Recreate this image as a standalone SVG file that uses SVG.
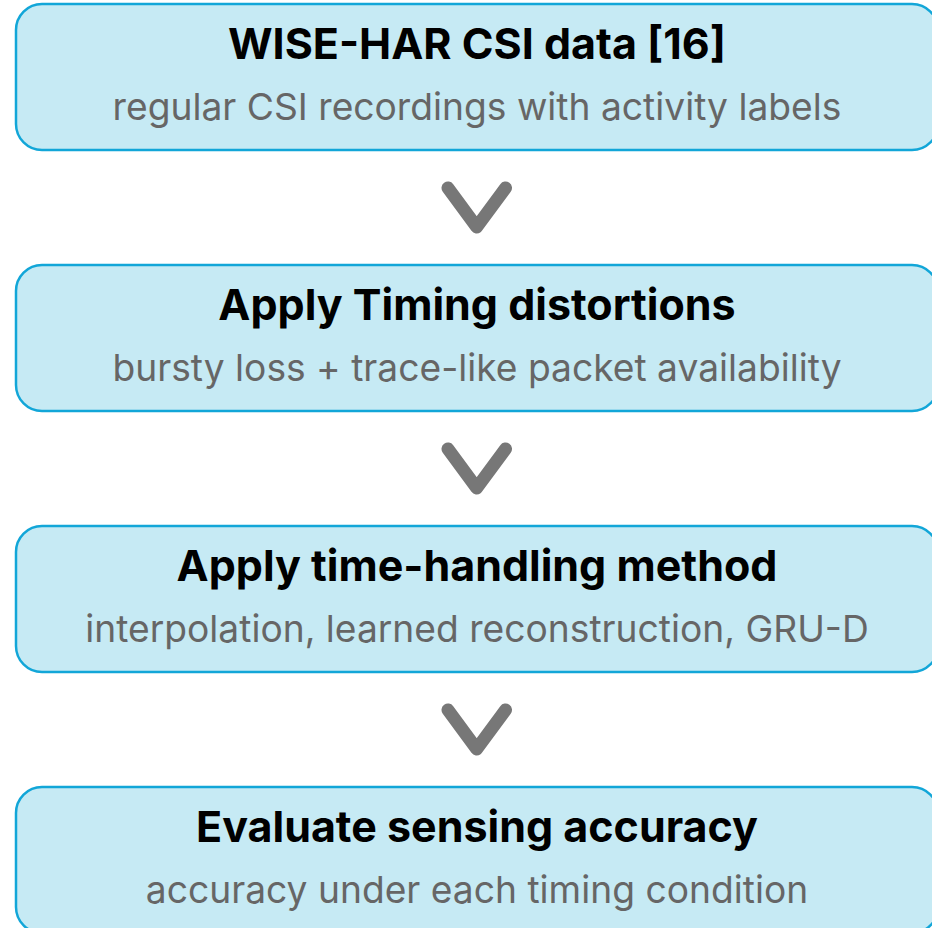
<svg xmlns="http://www.w3.org/2000/svg" width="932" height="928" viewBox="0 0 932 928">
<style>
.box{fill:#c6eaf4;stroke:#12a6d8;stroke-width:2.5}
.t{font-family:Inter,"Noto Sans",sans-serif;font-weight:700;font-size:43px;fill:#000;text-anchor:middle}
.s{font-family:Inter,"Noto Sans",sans-serif;font-weight:400;font-size:37.2px;fill:#666;text-anchor:middle}
.chev{fill:none;stroke:#777;stroke-width:13;stroke-linecap:round;stroke-linejoin:round}
</style>
<rect width="932" height="928" fill="#fff"/>
<g id="n1"><rect class="box" x="16" y="4" width="922" height="146" rx="26"/>
<text class="t" x="477" y="58.5">WISE-HAR CSI data [16]</text>
<text class="s" x="477" y="120">regular CSI recordings with activity labels</text></g>
<g id="n2"><rect class="box" x="16" y="265" width="922" height="146" rx="26"/>
<text class="t" x="477" y="319.5">Apply Timing distortions</text>
<text class="s" x="477" y="381">bursty loss + trace-like packet availability</text></g>
<g id="n3"><rect class="box" x="16" y="526" width="922" height="146" rx="26"/>
<text class="t" x="477" y="580.5">Apply time-handling method</text>
<text class="s" x="477" y="642">interpolation, learned reconstruction, GRU-D</text></g>
<g id="n4"><rect class="box" x="16" y="787" width="922" height="146" rx="26"/>
<text class="t" x="477" y="841.5">Evaluate sensing accuracy</text>
<text class="s" x="477" y="903">accuracy under each timing condition</text></g>
<g id="connectors">
<polyline class="chev" points="448,188 476.7,227 505.5,188"/>
<polyline class="chev" points="448,449 476.7,488 505.5,449"/>
<polyline class="chev" points="448,710 476.7,749 505.5,710"/>
</g>
</svg>
